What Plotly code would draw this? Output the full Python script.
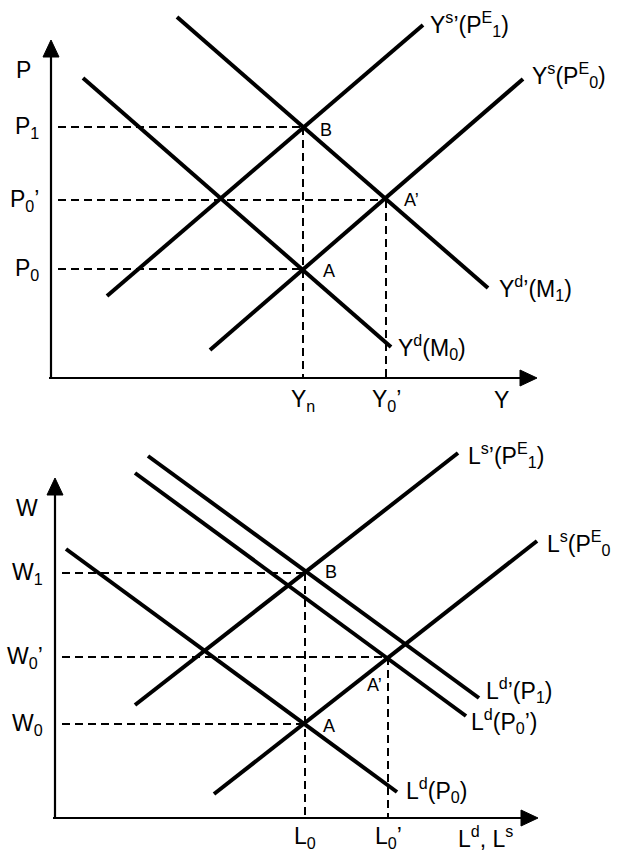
import plotly.graph_objects as go

W, H = 619, 853
FONT = "Liberation Sans, Arial, sans-serif"

# ---------------- Top panel (P vs Y) ----------------
top_curve_x0 = [177, 83, 107, 210]
top_curve_y0 = [17, 78, 296, 350]
top_curve_x1 = [488, 391, 423, 523]
top_curve_y1 = [288, 347, 25, 79]
top_curve_labels = ["Y<sup>d</sup>’(M<sub>1</sub>)", "Y<sup>d</sup>(M<sub>0</sub>)",
                    "Y<sup>s</sup>’(P<sup>E</sup><sub>1</sub>)", "Y<sup>s</sup>(P<sup>E</sup><sub>0</sub>)"]
top_curve_label_x = [497, 396, 428, 530]
top_curve_label_y = [288, 347, 24, 75]

top_axis_origin = (51, 378)
top_axis_xtip = 537
top_axis_ytip = 40

top_h_levels = [127, 200, 269]          # P1, P0', P0
top_h_ends = [303, 386, 303]
top_h_labels = ["P<sub>1</sub>", "P<sub>0</sub>’", "P<sub>0</sub>"]
top_v_levels = [303, 386]               # Yn, Y0'
top_v_starts = [127, 200]
top_v_labels = ["Y<sub>n</sub>", "Y<sub>0</sub>’"]

top_point_labels = ["B", "A’", "A"]
top_point_x = [318, 402, 321]
top_point_y = [130, 200, 271]

# ---------------- Bottom panel (W vs L) ----------------
bot_curve_x0 = [135, 214, 66, 148, 135]
bot_curve_y0 = [705, 794, 549, 456, 473]
bot_curve_x1 = [458, 537, 397, 479, 466]
bot_curve_y1 = [453, 541, 792, 698, 716]
bot_curve_labels = ["L<sup>s</sup>’(P<sup>E</sup><sub>1</sub>)", "L<sup>s</sup>(P<sup>E</sup><sub>0</sub>",
                    "L<sup>d</sup>(P<sub>0</sub>)", "L<sup>d</sup>’(P<sub>1</sub>)", "L<sup>d</sup>(P<sub>0</sub>’)"]
bot_curve_label_x = [466, 545, 404, 484, 469]
bot_curve_label_y = [455, 543, 790, 690, 721]

bot_axis_origin = (55, 818)
bot_axis_xtip = 538
bot_axis_ytip = 478

bot_h_levels = [573, 657, 724]          # W1, W0', W0
bot_h_ends = [305, 387, 305]
bot_h_labels = ["W<sub>1</sub>", "W<sub>0</sub>’", "W<sub>0</sub>"]
bot_v_levels = [305, 388]               # L0, L0'
bot_v_starts = [573, 657]
bot_v_labels = ["L<sub>0</sub>", "L<sub>0</sub>’"]

bot_point_labels = ["B", "A’", "A"]
bot_point_x = [323, 365, 321]
bot_point_y = [572, 685, 726]

fig = go.Figure()


def seg(x, y, width, dash="solid"):
    fig.add_trace(go.Scatter(x=x, y=y, mode="lines", hoverinfo="skip",
                             line=dict(color="black", width=width, dash=dash)))


def tri(x, y):
    fig.add_trace(go.Scatter(x=x, y=y, mode="lines", fill="toself", fillcolor="black",
                             hoverinfo="skip", line=dict(color="black", width=1)))


def label(x, y, text, xanchor="left", size=23):
    fig.add_annotation(x=x, y=y, text=text, showarrow=False, xanchor=xanchor, yanchor="middle",
                       font=dict(family=FONT, size=size, color="black"))


def panel(origin, xtip, ytip, cx0, cy0, cx1, cy1, clabels, clx, cly,
          hlev, hend, hlab, vlev, vstart, vlab, plab, px, py, ylab, xlab, xlab_x, ylab_y, xoff):
    ox, oy = origin
    # dashed guides
    for y, xe, t in zip(hlev, hend, hlab):
        seg([ox + 7, xe], [y, y], 2, "8px,5px")
        label(ox - 10, y, t, xanchor="right")
    for x, ys, t in zip(vlev, vstart, vlab):
        seg([x, x], [ys, oy], 2, "8px,5px")
        label(x, oy + xoff, t, xanchor="center")
    # axes
    seg([ox, ox], [oy, ytip + 16], 2.2)
    seg([ox - 2, xtip - 16], [oy, oy], 2.2)
    tri([ox - 8, ox + 8, ox, ox - 8], [ytip + 17, ytip + 17, ytip, ytip + 17])
    tri([xtip - 17, xtip - 17, xtip, xtip - 17], [oy - 8, oy + 8, oy, oy - 8])
    label(ox - 28, ylab_y, ylab, xanchor="center")
    label(xlab_x, oy + xoff, xlab, xanchor="center")
    # curves
    for a, b, c, d, t, lx, ly in zip(cx0, cy0, cx1, cy1, clabels, clx, cly):
        seg([a, c], [b, d], 4)
        label(lx, ly, t)
    for t, x, y in zip(plab, px, py):
        label(x, y, t, size=18)


panel(top_axis_origin, top_axis_xtip, top_axis_ytip, top_curve_x0, top_curve_y0, top_curve_x1,
      top_curve_y1, top_curve_labels, top_curve_label_x, top_curve_label_y,
      top_h_levels, top_h_ends, top_h_labels, top_v_levels, top_v_starts, top_v_labels,
      top_point_labels, top_point_x, top_point_y, "P", "Y", 501, 70, 22)
panel(bot_axis_origin, bot_axis_xtip, bot_axis_ytip, bot_curve_x0, bot_curve_y0, bot_curve_x1,
      bot_curve_y1, bot_curve_labels, bot_curve_label_x, bot_curve_label_y,
      bot_h_levels, bot_h_ends, bot_h_labels, bot_v_levels, bot_v_starts, bot_v_labels,
      bot_point_labels, bot_point_x, bot_point_y, "W", "L<sup>d</sup>, L<sup>s</sup>", 485, 508, 19)

fig.update_layout(width=W, height=H, margin=dict(l=0, r=0, t=0, b=0),
                  paper_bgcolor="white", plot_bgcolor="white", showlegend=False,
                  xaxis=dict(range=[0, W], visible=False, fixedrange=True),
                  yaxis=dict(range=[H, 0], visible=False, fixedrange=True))
fig.write_html("out.html", config={"displayModeBar": False},
               post_script="document.body.style.margin='0';document.body.style.overflow='hidden';")
